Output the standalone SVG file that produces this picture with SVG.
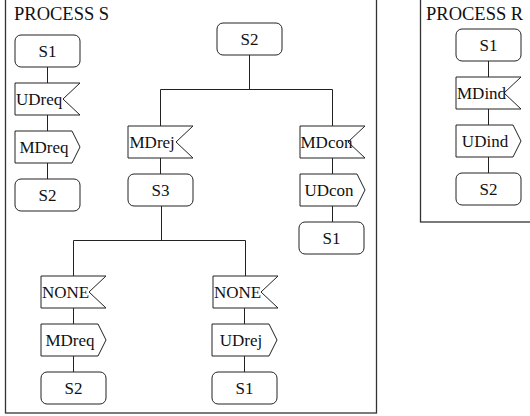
<svg xmlns="http://www.w3.org/2000/svg" width="530" height="416" viewBox="0 0 530 416">
  <style>
    .frame { fill: none; stroke: #333; stroke-width: 1.3; }
    .shape { fill: #fff; stroke: #222; stroke-width: 1; }
    .wire { fill: none; stroke: #222; stroke-width: 1; }
    text { font-family: "Liberation Serif", "Times New Roman", serif; fill: #111; }
    .title { font-size: 18.5px; }
    .lbl { font-size: 17px; }
    .mid { text-anchor: middle; }
  </style>
  <defs>
    <!-- state: rounded box -->
    <rect id="state" x="0" y="0" width="65" height="32" rx="6" ry="6" class="shape"/>
    <!-- input signal: box with a notch on the right -->
    <polygon id="input" points="0,0 65,0 48,16 65,32 0,32" class="shape"/>
    <!-- output signal: box pointing right -->
    <polygon id="output" points="0,0 57,0 65,16 57,32 0,32" class="shape"/>
  </defs>

  <rect width="530" height="416" fill="#fff"/>

  <!-- process frames -->
  <g id="processS">
    <rect class="frame" x="5.5" y="-5" width="371" height="418"/>
    <text class="title" x="14" y="20">PROCESS S</text>
  </g>
  <g id="processR">
    <rect class="frame" x="420.5" y="-5" width="200" height="227"/>
    <text class="title" x="426" y="20">PROCESS R</text>
  </g>

  <!-- connectors -->
  <g id="connectors">
    <!-- S: left column -->
    <line class="wire" x1="47.5" y1="67" x2="47.5" y2="179"/>
    <!-- S: tree from S2 -->
    <line class="wire" x1="249.5" y1="55" x2="249.5" y2="89.5"/>
    <polyline class="wire" points="160.5,126 160.5,89.5 332.5,89.5 332.5,126"/>
    <line class="wire" x1="160.5" y1="158" x2="160.5" y2="174"/>
    <line class="wire" x1="332.5" y1="158" x2="332.5" y2="222"/>
    <!-- S: tree from S3 -->
    <line class="wire" x1="161.5" y1="206" x2="161.5" y2="240.5"/>
    <polyline class="wire" points="73.5,276 73.5,240.5 245.5,240.5 245.5,276"/>
    <line class="wire" x1="73.5" y1="308" x2="73.5" y2="372"/>
    <line class="wire" x1="244.5" y1="308" x2="244.5" y2="372"/>
    <!-- R column -->
    <line class="wire" x1="488.5" y1="61" x2="488.5" y2="173"/>
  </g>

  <!-- PROCESS S, left column -->
  <g id="s-S1a"><use href="#state" x="15" y="35"/><text class="lbl mid" x="47.5" y="57">S1</text></g>
  <g id="s-UDreq"><use href="#input" x="15" y="83"/><text class="lbl" x="16" y="105">UDreq</text></g>
  <g id="s-MDreq1"><use href="#output" x="15" y="131"/><text class="lbl mid" x="44" y="153">MDreq</text></g>
  <g id="s-S2a"><use href="#state" x="15" y="179"/><text class="lbl mid" x="47.5" y="201">S2</text></g>

  <!-- PROCESS S, tree -->
  <g id="s-S2b"><use href="#state" x="217" y="23"/><text class="lbl mid" x="249.5" y="45">S2</text></g>
  <g id="s-MDrej"><use href="#input" x="128" y="126"/><text class="lbl" x="129.5" y="148">MDrej</text></g>
  <g id="s-MDcon"><use href="#input" x="300" y="126"/><text class="lbl" x="300.5" y="148">MDcon</text></g>
  <g id="s-S3"><use href="#state" x="128" y="174"/><text class="lbl mid" x="160.5" y="196">S3</text></g>
  <g id="s-UDcon"><use href="#output" x="300" y="174"/><text class="lbl mid" x="329" y="196">UDcon</text></g>
  <g id="s-S1b"><use href="#state" x="299" y="222"/><text class="lbl mid" x="331.5" y="244">S1</text></g>

  <g id="s-NONE1"><use href="#input" x="41" y="276"/><text class="lbl" x="42" y="298">NONE</text></g>
  <g id="s-MDreq2"><use href="#output" x="41" y="324"/><text class="lbl mid" x="70" y="346">MDreq</text></g>
  <g id="s-S2c"><use href="#state" x="41" y="372"/><text class="lbl mid" x="73.5" y="394">S2</text></g>

  <g id="s-NONE2"><use href="#input" x="213" y="276"/><text class="lbl" x="214" y="298">NONE</text></g>
  <g id="s-UDrej"><use href="#output" x="212" y="324"/><text class="lbl mid" x="241" y="346">UDrej</text></g>
  <g id="s-S1c"><use href="#state" x="212" y="372"/><text class="lbl mid" x="244.5" y="394">S1</text></g>

  <!-- PROCESS R -->
  <g id="r-S1"><use href="#state" x="456" y="29"/><text class="lbl mid" x="488.5" y="51">S1</text></g>
  <g id="r-MDind"><use href="#input" x="456" y="77"/><text class="lbl" x="457" y="99">MDind</text></g>
  <g id="r-UDind"><use href="#output" x="456" y="125"/><text class="lbl mid" x="485" y="147">UDind</text></g>
  <g id="r-S2"><use href="#state" x="456" y="173"/><text class="lbl mid" x="488.5" y="195">S2</text></g>
</svg>
